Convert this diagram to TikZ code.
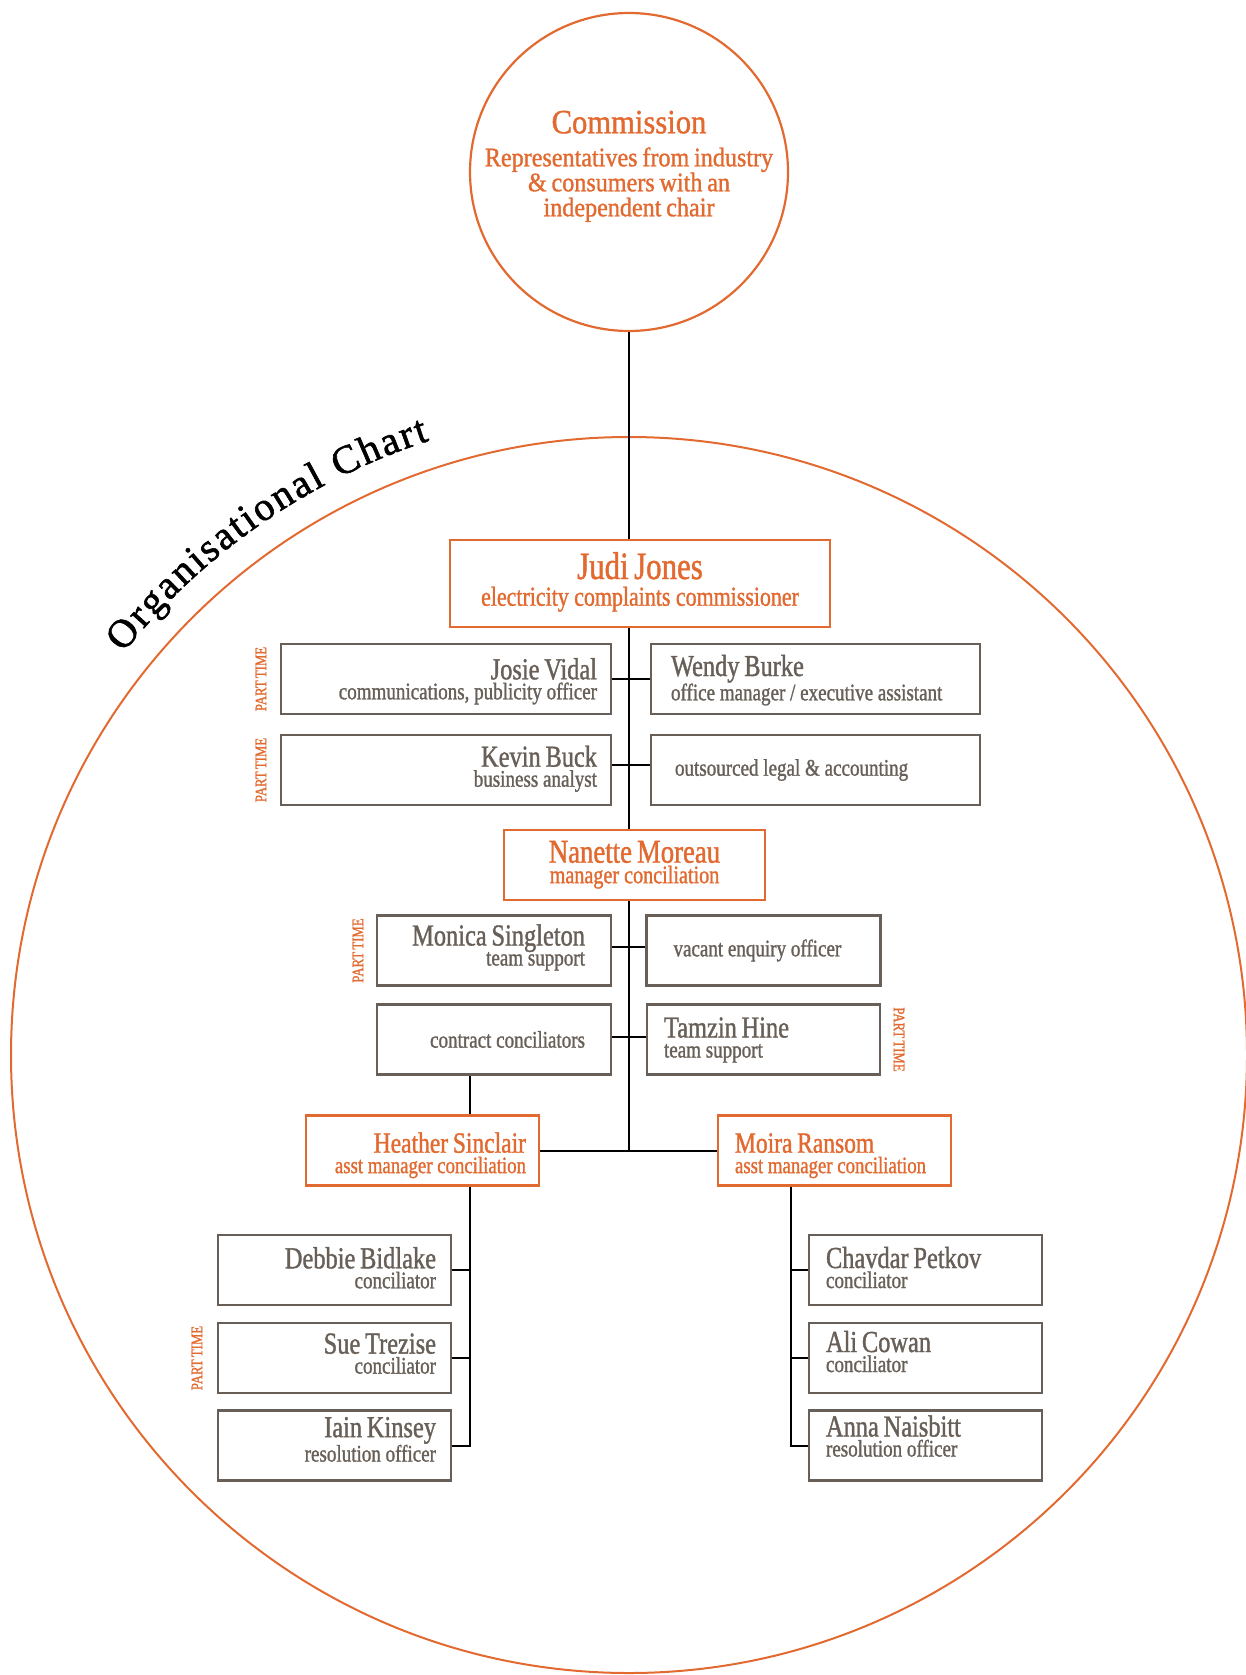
\documentclass[tikz,border=0pt]{standalone}
\usepackage{fontspec}
\usepackage{xcolor}
\usetikzlibrary{calc, decorations.text}

\newfontfamily\chartfont{Liberation Serif}[FakeStretch=0.8, FakeBold=1.2, WordSpace=0.7]
\newfontfamily\commfont{Liberation Serif}[FakeStretch=0.9, FakeBold=1.2, WordSpace=0.8]
\newfontfamily\titlefont{Liberation Serif}[FakeBold=1.5]

\definecolor{ecorange}{RGB}{226,106,48}
\definecolor{ecgrey}{RGB}{104,96,88}

\lineskiplimit=-100pt
\hyphenpenalty=10000
\newcommand{\staffname}[1]{{\fontsize{30.5}{20}\selectfont #1}}
\newcommand{\rolefont}{\chartfont\fontsize{23.8}{20}\selectfont}
\newcommand{\judifont}{\chartfont\fontsize{27.4}{26.7}\selectfont}
\newcommand{\nanettefont}{\chartfont\fontsize{25.2}{20.5}\selectfont}
\newcommand{\asstfont}{\chartfont\fontsize{23.5}{20.4}\selectfont}
\newcommand{\commtext}{\commfont\fontsize{26.8}{25}\selectfont}

\begin{document}
\begin{tikzpicture}[x=1pt, y=1pt,
    link/.style={line width=2pt},
    staff/.style={draw=ecgrey, line width=2.2pt, text=ecgrey, minimum height=70pt,
        inner ysep=0pt, font=\rolefont,
        execute at begin node={\spaceskip=0.2em\relax}},
    lead/.style={staff, draw=ecorange, text=ecorange},
    namerow/.style 2 args={text height=#1pt, text depth=#2pt},
    toprowr/.style={staff, align=right, text width=302pt, inner xsep=14pt},
    toprowl/.style={staff, align=left, text width=289pt, inner xsep=20pt},
    midrowr/.style={staff, align=right, text width=182pt, inner xsep=26pt},
    midrowl/.style={staff, align=left, text width=180pt, inner xsep=27pt},
    lowrowr/.style={staff, align=right, text width=203pt, inner xsep=15pt},
    lowrowl/.style={staff, align=left, text width=199pt, inner xsep=17pt},
    parttime/.style={text=ecorange, inner sep=0pt, font={\chartfont\fontsize{16}{16}\selectfont}}]

    \useasboundingbox (0,0) rectangle (1245,-1675);

    % outer circle and title
    \coordinate (orgc) at (629,-1055);
    \draw[ecorange, line width=2pt] (orgc) circle[radius=618];
    \path[decorate, decoration={text along path, text align=fit to path,
        text={|\titlefont\fontsize{40}{40}\selectfont|Organisational Chart}}]
        ([shift={(141.5:646pt)}]orgc) arc[start angle=141.5, end angle=108, radius=646pt];

    % commission
    \node[circle, draw=ecorange, line width=2.2pt, minimum size=318pt, inner sep=0pt,
        text=ecorange, align=center, font=\commtext]
        (commission) at (629,-172)
        {{\fontsize{34}{25}\selectfont Commission}\\[8pt]
         Representatives from industry\\ \& consumers with an\\
         independent chair\rule[-17pt]{0pt}{1pt}};

    \node[lead, align=center, minimum height=87pt, text width=360pt, inner xsep=10pt,
        namerow={39}{48}, font=\judifont] (judi) at (640,-583.5)
        {{\fontsize{38.6}{26.7}\selectfont Judi Jones}\\ electricity complaints commissioner};

    \node[toprowr, namerow={35.3}{34.7}] (josie) at (446,-679)
        {\staffname{Josie Vidal}\\ communications, publicity officer};
    \node[toprowl, namerow={32}{38}] (wendy) at (815.5,-679)
        {\staffname{Wendy Burke}\\ office manager / executive assistant};
    \node[toprowr, namerow={31.7}{38.3}] (kevin) at (446,-770)
        {\staffname{Kevin Buck}\\ business analyst};
    \node[toprowl, inner xsep=24pt, text width=281pt] (outsourced) at (815.5,-770)
        {outsourced legal \& accounting};

    \node[lead, align=center, text width=241pt, inner xsep=10pt,
        namerow={32.7}{37.3}, font=\nanettefont] (nanette) at (634.5,-865)
        {{\fontsize{33.4}{20.5}\selectfont Nanette Moreau}\\ manager conciliation};

    \node[midrowr, namerow={30}{40}] (monica) at (494,-950.5)
        {\staffname{Monica Singleton}\\ team support};
    \node[midrowl] (vacant) at (763.5,-950.5) {vacant enquiry officer};
    \node[midrowr] (contract) at (494,-1039.5) {contract conciliators};
    \node[lowrowl, namerow={33}{37}] (tamzin) at (763.5,-1039.5)
        {\staffname{Tamzin Hine}\\ team support};

    \node[lead, align=right, text width=207pt, inner xsep=13pt,
        namerow={36.7}{32.3}, font=\asstfont] (heather) at (422.5,-1150.5)
        {{\fontsize{29.4}{20.4}\selectfont Heather Sinclair}\\ asst manager conciliation};
    \node[lead, align=left, text width=199pt, inner xsep=17pt,
        namerow={36.7}{32.3}, font=\asstfont] (moira) at (834.5,-1150.5)
        {{\fontsize{29.4}{20.4}\selectfont Moira Ransom}\\ asst manager conciliation};

    \node[lowrowr, namerow={33.3}{36.7}] (debbie) at (334.5,-1270)
        {\staffname{Debbie Bidlake}\\ conciliator};
    \node[lowrowr, namerow={30.6}{39.4}] (sue) at (334.5,-1358)
        {\staffname{Sue Trezise}\\ conciliator};
    \node[lowrowr, namerow={26.7}{43.3}] (iain) at (334.5,-1445.5)
        {\staffname{Iain Kinsey}\\ resolution officer};

    \node[lowrowl, namerow={33}{37}] (chavdar) at (925.5,-1270)
        {\staffname{Chavdar Petkov}\\ conciliator};
    \node[lowrowl, namerow={29}{41}] (ali) at (925.5,-1358)
        {\staffname{Ali Cowan}\\ conciliator};
    \node[lowrowl, namerow={26}{44}] (anna) at (925.5,-1445.5)
        {\staffname{Anna Naisbitt}\\ resolution officer};

    % part time marks
    \node[parttime, rotate=90] (ptjosie) at ([xshift=-19pt]josie.west) {PART TIME};
    \node[parttime, rotate=90] (ptkevin) at ([xshift=-19pt]kevin.west) {PART TIME};
    \node[parttime, rotate=90] (ptmonica) at ([xshift=-18pt]monica.west) {PART TIME};
    \node[parttime, rotate=90] (ptsue) at ([xshift=-20pt]sue.west) {PART TIME};
    \node[parttime, rotate=-90] (pttamzin) at ([xshift=18pt]tamzin.east) {PART TIME};

    % connectors
    \coordinate (lspine) at (470,-1185);
    \coordinate (rspine) at (791,-1185);

    \draw[link] (commission) -- (commission |- judi.north);
    \draw[link] (commission |- judi.south) -- (commission |- nanette.north);
    \draw[link] (josie) -- (wendy);
    \draw[link] ([yshift=5pt]kevin.east) -- ([yshift=5pt]outsourced.west);
    \draw[link] (commission |- nanette.south) -- (commission |- heather.east);
    \draw[link] ([yshift=4pt]monica.east) -- ([yshift=4pt]vacant.west);
    \draw[link] ([yshift=3pt]contract.east) -- ([yshift=3pt]tamzin.west);
    \draw[link] (heather) -- (moira);
    \draw[link] (contract.south -| lspine) -- (heather.north -| lspine);

    \draw[link] (heather.south -| lspine) -- (lspine |- iain.east) -- (iain.east);
    \draw[link] (debbie.east) -- (debbie.east -| lspine);
    \draw[link] (sue.east) -- (sue.east -| lspine);

    \draw[link] (moira.south -| rspine) -- (rspine |- anna.west) -- (anna.west);
    \draw[link] (chavdar.west) -- (chavdar.west -| rspine);
    \draw[link] (ali.west) -- (ali.west -| rspine);
\end{tikzpicture}
\end{document}
